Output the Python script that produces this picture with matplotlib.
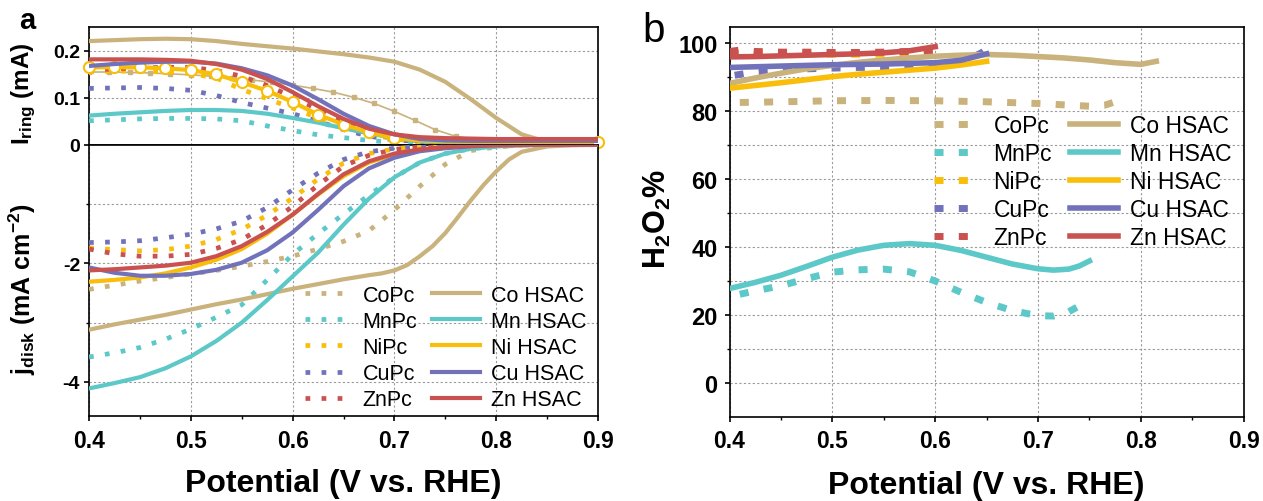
import matplotlib
matplotlib.use("Agg")
import matplotlib.pyplot as plt

plt.rcParams["font.family"] = ["Liberation Sans", "DejaVu Sans"]
plt.rcParams["mathtext.fontset"] = "custom"
plt.rcParams["mathtext.rm"] = "Liberation Sans"
plt.rcParams["mathtext.bf"] = "Liberation Sans:bold"
plt.rcParams["mathtext.it"] = "Liberation Sans:italic"
plt.rcParams["axes.unicode_minus"] = False

metals = ["Co", "Mn", "Ni", "Cu", "Zn"]
colors = {"Co": "#C9B27C", "Mn": "#5CC8C8", "Ni": "#F8BE0A",
          "Cu": "#7272BA", "Zn": "#C9514F"}

# ---- panel a: RRDE, common potential grid (V vs RHE)
potential = [0.400, 0.425, 0.450, 0.475, 0.500, 0.525, 0.550, 0.575, 0.600, 0.625, 0.650,
             0.675, 0.700, 0.725, 0.750, 0.775, 0.800, 0.825, 0.850, 0.875, 0.900]

# ring current (mA)
ring_hsac = {
    "Co": [0.221, 0.223, 0.225, 0.226, 0.225, 0.221, 0.215, 0.210, 0.205, 0.199, 0.193,
           0.186, 0.177, 0.160, 0.134, 0.097, 0.057, 0.022, 0.006, 0.002, 0.001],
    "Mn": [0.062, 0.066, 0.069, 0.072, 0.074, 0.074, 0.072, 0.066, 0.057, 0.047, 0.035,
           0.024, 0.014, 0.008, 0.005, 0.004, 0.003, 0.003, 0.003, 0.003, 0.003],
    "Ni": [0.165, 0.165, 0.165, 0.163, 0.159, 0.150, 0.133, 0.115, 0.091, 0.064, 0.043,
           0.026, 0.014, 0.009, 0.007, 0.006, 0.006, 0.005, 0.005, 0.005, 0.005],
    "Cu": [0.168, 0.172, 0.175, 0.177, 0.177, 0.173, 0.163, 0.148, 0.126, 0.097, 0.066,
           0.040, 0.022, 0.012, 0.009, 0.008, 0.008, 0.008, 0.008, 0.008, 0.008],
    "Zn": [0.182, 0.182, 0.182, 0.181, 0.179, 0.172, 0.160, 0.140, 0.112, 0.082, 0.055,
           0.034, 0.022, 0.016, 0.014, 0.013, 0.012, 0.012, 0.012, 0.012, 0.012],
}
ring_pc = {
    "Mn": [0.051, 0.053, 0.055, 0.056, 0.056, 0.055, 0.051, 0.040, 0.030, 0.021, 0.015,
           0.009, 0.005, 0.003, 0.003, 0.003, 0.003, 0.003, 0.003, 0.003, 0.003],
    "Ni": [0.155, 0.157, 0.157, 0.155, 0.152, 0.142, 0.118, 0.098, 0.078, 0.057, 0.038,
           0.022, 0.012, 0.006, 0.004, 0.003, 0.003, 0.003, 0.003, 0.003, 0.003],
    "Cu": [0.120, 0.121, 0.122, 0.120, 0.116, 0.105, 0.090, 0.078, 0.066, 0.050, 0.032,
           0.018, 0.010, 0.007, 0.006, 0.005, 0.005, 0.005, 0.005, 0.005, 0.005],
    "Zn": [0.158, 0.162, 0.164, 0.165, 0.165, 0.158, 0.146, 0.126, 0.102, 0.075, 0.050,
           0.030, 0.015, 0.008, 0.006, 0.005, 0.005, 0.005, 0.005, 0.005, 0.005],
}
# CoPc ring was recorded with a finer step
potential_copc = [0.40, 0.42, 0.44, 0.46, 0.48, 0.50, 0.52, 0.54, 0.56, 0.58, 0.60, 0.62, 0.64,
                  0.66, 0.68, 0.70, 0.72, 0.74, 0.76, 0.78, 0.80, 0.82, 0.84, 0.86, 0.88, 0.90]
ring_copc = [0.155, 0.155, 0.154, 0.153, 0.151, 0.149, 0.146, 0.142, 0.138, 0.133, 0.127,
             0.120, 0.112, 0.101, 0.088, 0.071, 0.052, 0.032, 0.018, 0.011, 0.009, 0.008,
             0.007, 0.007, 0.006, 0.006]

# disk current density (mA cm-2)
disk_hsac = {
    "Mn": [-4.11, -4.02, -3.92, -3.77, -3.57, -3.31, -3.00, -2.62, -2.22, -1.82, -1.35,
           -0.91, -0.55, -0.30, -0.15, -0.07, -0.03, -0.01, -0.005, 0.0, 0.0],
    "Ni": [-2.31, -2.28, -2.24, -2.17, -2.07, -1.94, -1.76, -1.50, -1.18, -0.84, -0.53,
           -0.30, -0.17, -0.09, -0.05, -0.03, -0.01, -0.005, 0.0, 0.0, 0.0],
    "Cu": [-2.07, -2.16, -2.21, -2.21, -2.18, -2.11, -1.99, -1.78, -1.48, -1.10, -0.70,
           -0.40, -0.22, -0.11, -0.06, -0.03, -0.01, -0.005, 0.0, 0.0, 0.0],
    "Zn": [-2.12, -2.10, -2.07, -2.04, -1.99, -1.88, -1.71, -1.47, -1.18, -0.83, -0.50,
           -0.28, -0.15, -0.08, -0.04, -0.02, -0.01, -0.005, 0.0, 0.0, 0.0],
}
# Co HSAC disk: extra points around the late onset
potential_co_disk = [0.400, 0.425, 0.450, 0.475, 0.500, 0.525, 0.550, 0.575, 0.600, 0.625,
                     0.650, 0.675, 0.6875, 0.700, 0.7125, 0.725, 0.7375, 0.750, 0.7625,
                     0.775, 0.7875, 0.800, 0.8125, 0.825, 0.850, 0.875, 0.900]
disk_co_hsac = [-3.12, -3.03, -2.95, -2.87, -2.78, -2.69, -2.61, -2.52, -2.43, -2.35,
                -2.27, -2.20, -2.17, -2.12, -2.03, -1.88, -1.71, -1.49, -1.22, -0.94,
                -0.68, -0.45, -0.25, -0.12, -0.03, -0.01, 0.0]
disk_pc = {
    "Co": [-2.44, -2.37, -2.30, -2.24, -2.18, -2.12, -2.05, -1.97, -1.88, -1.76, -1.63,
           -1.45, -1.10, -0.70, -0.33, -0.10, -0.04, -0.01, 0.0, 0.0, 0.0],
    "Mn": [-3.58, -3.51, -3.42, -3.28, -3.11, -2.91, -2.70, -2.28, -1.85, -1.50, -1.17,
           -0.85, -0.55, -0.30, -0.15, -0.07, -0.03, -0.01, 0.0, 0.0, 0.0],
    "Ni": [-1.74, -1.77, -1.79, -1.77, -1.71, -1.60, -1.43, -1.19, -0.90, -0.58, -0.31,
           -0.15, -0.07, -0.03, -0.01, 0.0, 0.0, 0.0, 0.0, 0.0, 0.0],
    "Cu": [-1.65, -1.64, -1.62, -1.57, -1.51, -1.42, -1.29, -1.06, -0.76, -0.48, -0.25,
           -0.12, -0.06, -0.03, -0.01, 0.0, 0.0, 0.0, 0.0, 0.0, 0.0],
    "Zn": [-1.76, -1.84, -1.88, -1.88, -1.85, -1.75, -1.60, -1.35, -1.04, -0.68, -0.36,
           -0.18, -0.08, -0.04, -0.02, -0.01, 0.0, 0.0, 0.0, 0.0, 0.0],
}

# ---- panel b: H2O2 selectivity (%)
h2o2_hsac_x = {
    "Co": [0.400, 0.425, 0.450, 0.475, 0.500, 0.525, 0.550, 0.575, 0.600, 0.625, 0.650,
           0.675, 0.700, 0.725, 0.750, 0.775, 0.800, 0.815],
    "Mn": [0.400, 0.425, 0.450, 0.475, 0.500, 0.525, 0.550, 0.575, 0.600, 0.625, 0.650,
           0.675, 0.700, 0.715, 0.730, 0.740, 0.750],
    "Ni": [0.400, 0.425, 0.450, 0.475, 0.500, 0.525, 0.550, 0.575, 0.600, 0.625, 0.650],
    "Cu": [0.400, 0.425, 0.450, 0.475, 0.500, 0.525, 0.550, 0.575, 0.600, 0.625, 0.650],
    "Zn": [0.400, 0.425, 0.450, 0.475, 0.500, 0.525, 0.550, 0.575, 0.600],
}
h2o2_hsac = {
    "Co": [88.0, 89.6, 91.0, 92.3, 93.3, 94.2, 94.9, 95.5, 96.0, 96.3, 96.5, 96.3, 95.9,
           95.5, 94.9, 94.1, 93.6, 94.5],
    "Mn": [27.7, 29.5, 31.6, 34.2, 36.9, 39.0, 40.4, 40.9, 40.4, 38.9, 36.9, 34.9, 33.5,
           33.1, 33.4, 34.3, 35.8],
    "Ni": [86.6, 87.4, 88.2, 89.1, 90.0, 90.7, 91.3, 91.9, 92.5, 93.4, 94.5],
    "Cu": [92.7, 92.9, 93.1, 93.3, 93.5, 93.6, 93.7, 93.9, 94.1, 94.8, 96.7],
    "Zn": [95.8, 95.9, 96.1, 96.3, 96.5, 96.7, 97.0, 97.6, 98.8],
}
h2o2_pc_x = {
    "Co": [0.410, 0.450, 0.500, 0.550, 0.600, 0.650, 0.700, 0.725, 0.750, 0.765, 0.775, 0.785],
    "Mn": [0.410, 0.425, 0.450, 0.475, 0.500, 0.525, 0.550, 0.575, 0.600, 0.625, 0.650,
           0.675, 0.700, 0.715, 0.730, 0.750],
    "Ni": [0.400, 0.425, 0.450, 0.475, 0.500, 0.525, 0.550, 0.575, 0.600],
    "Cu": [0.405, 0.425, 0.450, 0.475, 0.500, 0.525, 0.550, 0.575, 0.600, 0.625, 0.645, 0.650],
    "Zn": [0.400, 0.410, 0.425, 0.450, 0.475, 0.500, 0.525, 0.550, 0.575, 0.600],
}
h2o2_pc = {
    "Co": [82.4, 82.6, 82.9, 83.0, 82.9, 82.6, 82.1, 81.7, 81.3, 81.6, 82.6, 84.5],
    "Mn": [26.0, 27.0, 28.5, 30.6, 32.5, 33.2, 33.4, 32.6, 29.9, 26.6, 23.6, 21.2, 19.7,
           19.6, 20.9, 24.2],
    "Ni": [97.0, 96.9, 96.8, 96.7, 96.6, 96.6, 96.6, 96.8, 97.5],
    "Cu": [90.4, 91.4, 91.9, 92.3, 92.5, 92.7, 92.8, 93.0, 93.2, 94.0, 97.0, 98.0],
    "Zn": [97.4, 97.8, 97.4, 97.2, 97.2, 97.1, 97.1, 97.2, 97.4, 97.6],
}

dot_a = (0, (1.0, 2.4))
dot_b = (0, (1.3, 2.2))
grid_kw = dict(color="#9a9a9a", linestyle=(0, (2, 2)), linewidth=0.8)

fig = plt.figure(figsize=(12.63, 5.02), dpi=100)
ax_r = fig.add_axes([0.0705, 0.7098, 0.403, 0.2344])
ax_d = fig.add_axes([0.0705, 0.1693, 0.403, 0.5405])
ax_b = fig.add_axes([0.5776, 0.1679, 0.4071, 0.7757])

# ring
ax_r.plot(potential_copc, ring_copc, color=colors["Co"], lw=1.2, marker="s", ms=3,
          zorder=3)
for m in ["Mn", "Ni", "Cu", "Zn"]:
    ax_r.plot(potential, ring_pc[m], color=colors[m], lw=3.4, ls=dot_a,
              dash_capstyle="butt", zorder=3)
for m in metals:
    kw = {}
    if m == "Ni":
        idx = [i for i, v in enumerate(potential) if v <= 0.7] + [len(potential) - 1]
        kw = dict(marker="o", ms=8, mfc="white", mec=colors["Ni"], mew=1.5,
                  markevery=idx, clip_on=False)
    ax_r.plot(potential, ring_hsac[m], color=colors[m], lw=3, zorder=4, **kw)

# disk
pc_handles, hsac_handles = [], []
for m in metals:
    ln, = ax_d.plot(potential, disk_pc[m], color=colors[m], lw=3.4, ls=dot_a,
                    dash_capstyle="butt", label=m + "Pc", zorder=3)
    pc_handles.append(ln)
for m in metals:
    if m == "Co":
        xs, ys = potential_co_disk, disk_co_hsac
    else:
        xs, ys = potential, disk_hsac[m]
    ln, = ax_d.plot(xs, ys, color=colors[m], lw=3, label=m + " HSAC", zorder=4)
    hsac_handles.append(ln)

# panel b
b_pc, b_hsac = [], []
for m in metals:
    ln, = ax_b.plot(h2o2_pc_x[m], h2o2_pc[m], color=colors[m], lw=5, ls=dot_b,
                    dash_capstyle="butt", label=m + "Pc", zorder=3)
    b_pc.append(ln)
for m in metals:
    ln, = ax_b.plot(h2o2_hsac_x[m], h2o2_hsac[m], color=colors[m], lw=4, label=m + " HSAC",
                    zorder=4)
    b_hsac.append(ln)

for ax in (ax_r, ax_d, ax_b):
    ax.set_xlim(0.4, 0.9)
    ax.set_xticks([0.4, 0.5, 0.6, 0.7, 0.8, 0.9])
    ax.set_xticks([0.45, 0.55, 0.65, 0.75, 0.85], minor=True)
    ax.xaxis.grid(True, which="major", **grid_kw)
    ax.yaxis.grid(True, which="both", **grid_kw)
    ax.set_axisbelow(True)
    for s in ax.spines.values():
        s.set_linewidth(1.2)
    ax.tick_params(which="major", direction="out", length=3.5, width=1.2)
    ax.tick_params(which="minor", direction="out", length=2.5, width=1.0)

ax_r.set_ylim(0, 0.251)
ax_r.set_yticks([0, 0.1, 0.2])
ax_r.set_yticklabels(["0", "0.1", "0.2"])
ax_r.tick_params(axis="x", which="both", length=0, labelbottom=False)

ax_d.set_ylim(-4.575, 0)
ax_d.set_yticks([-4, -2])
ax_d.set_yticklabels(["-4", "-2"])
ax_d.set_yticks([-3, -1], minor=True)
ax_d.set_xticklabels(["0.4", "0.5", "0.6", "0.7", "0.8", "0.9"])

ax_b.set_ylim(-10, 104.5)
ax_b.set_yticks([0, 20, 40, 60, 80, 100])
ax_b.set_yticks([10, 30, 50, 70, 90], minor=True)
ax_b.set_xticklabels(["0.4", "0.5", "0.6", "0.7", "0.8", "0.9"])

for ax in (ax_r, ax_d):
    for t in ax.get_yticklabels():
        t.set_fontsize(14)
        t.set_fontweight("bold")
for ax in (ax_d, ax_b):
    for t in ax.get_xticklabels():
        t.set_fontsize(16.5)
        t.set_fontweight("bold")
for t in ax_b.get_yticklabels():
    t.set_fontsize(17)
    t.set_fontweight("bold")
ax_r.tick_params(axis="y", pad=3)
ax_d.tick_params(axis="y", pad=3)
ax_d.tick_params(axis="x", pad=6)
ax_b.tick_params(axis="both", pad=5)

ax_r.set_ylabel(r"$\mathbf{I_{ring}}$ (mA)", fontsize=17.5, fontweight="bold")
ax_r.yaxis.set_label_coords(-0.1, 0.44)
ax_d.set_ylabel(r"$\mathbf{j_{disk}}$ (mA cm$^{\mathbf{-2}}$)", fontsize=18,
                fontweight="bold")
ax_d.yaxis.set_label_coords(-0.1, 0.47)
ax_d.set_xlabel("Potential (V vs. RHE)", fontsize=23, fontweight="bold")
ax_d.xaxis.set_label_coords(0.5, -0.19)

ax_b.set_ylabel(r"$\mathbf{H_2O_2}$%", fontsize=22, fontweight="bold")
ax_b.yaxis.set_label_coords(-0.11, 0.51)
ax_b.set_xlabel("Potential (V vs. RHE)", fontsize=23, fontweight="bold")
ax_b.xaxis.set_label_coords(0.5, -0.136)

ax_d.legend(pc_handles + hsac_handles, [h.get_label() for h in pc_handles + hsac_handles],
            ncol=2, frameon=False, fontsize=15.5, loc="lower right",
            bbox_to_anchor=(0.985, 0.005), handlelength=2.2, handletextpad=0.5,
            columnspacing=0.7, labelspacing=0.24, borderpad=0.2, borderaxespad=0)
ax_b.legend(b_pc + b_hsac, [h.get_label() for h in b_pc + b_hsac],
            ncol=2, frameon=False, fontsize=16.5, loc="upper right",
            bbox_to_anchor=(0.985, 0.79), handlelength=2.1, handletextpad=0.5,
            columnspacing=0.8, labelspacing=0.22, borderpad=0.2, borderaxespad=0)

fig.text(27 / 1263, 1 - 29 / 502, "a", fontsize=21, fontweight="bold", ha="center",
         va="baseline")
fig.text(654 / 1263, 1 - 41.7 / 502, "b", fontsize=29, ha="center", va="baseline")

fig.savefig("out.png", dpi=100)
